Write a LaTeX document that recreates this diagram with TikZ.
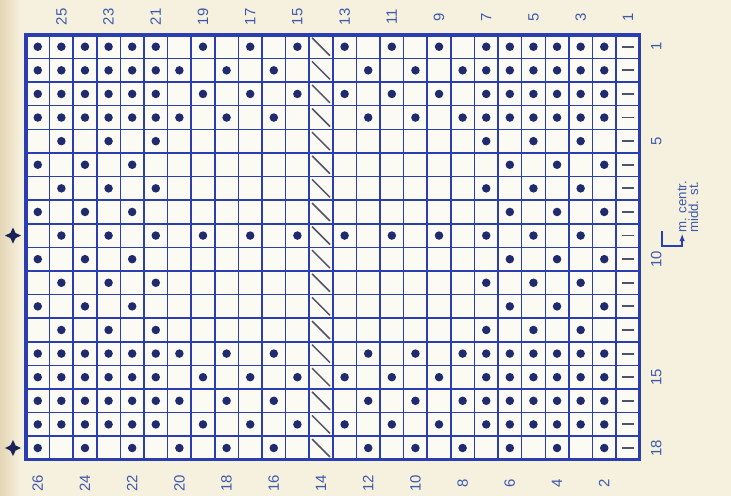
\documentclass[tikz,border=0pt]{standalone}
\usepackage{fontspec}
\setsansfont{Liberation Sans}
\usetikzlibrary{arrows.meta,shapes.geometric}

\definecolor{paper}{RGB}{246,241,222}
\definecolor{paperedge}{RGB}{228,214,182}
\definecolor{cellbg}{RGB}{252,251,243}
\definecolor{gridblue}{RGB}{42,62,178}
\definecolor{dotblue}{RGB}{32,42,110}
\definecolor{lblblue}{RGB}{62,88,172}
\definecolor{markgray}{RGB}{78,82,108}

\tikzset{
	numlbl/.style={rotate=90, text=lblblue, inner sep=0pt, font=\sffamily\fontsize{9}{10}\selectfont},
	gridline/.style={gridblue, line width=0.9pt},
	knot/.style={fill=dotblue},
	purl/.style={markgray, line width=0.9pt},
	edgest/.style={markgray, line width=1.1pt},
	rowstar/.style={star, star points=4, star point ratio=2.2, fill=dotblue!80!black, inner sep=0pt, minimum size=0.34cm}
}

\begin{document}
\begin{tikzpicture}[x=0.5cm, y=-0.5cm, >={Latex[length=1.6mm]}]
	\useasboundingbox (-1.10,-1.48) rectangle (29.87,19.53);
	\fill[paper] (-1.10,-1.48) rectangle (29.87,19.53);
	\shade[left color=paperedge, right color=paper] (-1.10,-1.48) rectangle (-0.2,19.53);
	\fill[cellbg] (0,0) rectangle (26,18);
	% chart grid
	\foreach \c in {1,...,25}
		\draw[gridline] (\c,0) -- (\c,18);
	\foreach \r in {1,...,17}
		\draw[gridline] (0,\r) -- (26,\r);
	\draw[gridblue, line width=2pt] (0,0) rectangle (26,18);
	% dots, left half and its mirror
	\foreach \r/\cols in {1/{1,2,3,4,5,6,8,10,12}, 2/{1,2,3,4,5,6,7,9,11},
			3/{1,2,3,4,5,6,8,10,12}, 4/{1,2,3,4,5,6,7,9,11}, 5/{2,4,6}, 6/{1,3,5},
			7/{2,4,6}, 8/{1,3,5}, 9/{2,4,6,8,10,12}, 10/{1,3,5}, 11/{2,4,6}, 12/{1,3,5},
			13/{2,4,6}, 14/{1,2,3,4,5,6,7,9,11}, 15/{1,2,3,4,5,6,8,10,12},
			16/{1,2,3,4,5,6,7,9,11}, 17/{1,2,3,4,5,6,8,10,12}, 18/{1,3,5,7,9,11}} {
		\foreach \c in \cols {
			\fill[knot] (\c-0.5,\r-0.5) circle (0.18);
			\fill[knot] (25.5-\c,\r-0.5) circle (0.18);
		}
	}
	% row 14 and row 1
	\foreach \r in {1,...,18} {
		\draw[purl] (12.12,\r-0.88) -- (12.88,\r-0.12);
		\draw[edgest] (25.25,\r-0.5) -- (25.75,\r-0.5);
	}
	% row numbers
	\foreach \n in {1,3,...,25}
		\node[numlbl] (top\n) at (26.5-\n,-0.76) {\n};
	\foreach \n in {2,4,...,26}
		\node[numlbl] (bot\n) at (26.5-\n,19.0) {\n};
	% stitch numbers
	\foreach \s in {1,5,10,15,18}
		\node[numlbl] (st\s) at (26.7,\s-0.5) {\s};
	\foreach \r in {9,18}
		\node[rowstar] (star\r) at (-0.55,\r-0.5) {};
	% middle stitch
	\node[numlbl, anchor=west, align=left, font=\sffamily\fontsize{8}{7}\selectfont] (midst) at (28.05,8.4) {m. centr.\\midd. st.};
	\coordinate (tenmark) at (26.95,8.3);
	\coordinate (mcfoot) at (27.8,8.42);
	\draw[->, gridblue, line width=1pt] (tenmark) -- (26.95,8.95) -- (27.8,8.95) -- (mcfoot);
\end{tikzpicture}
\end{document}
